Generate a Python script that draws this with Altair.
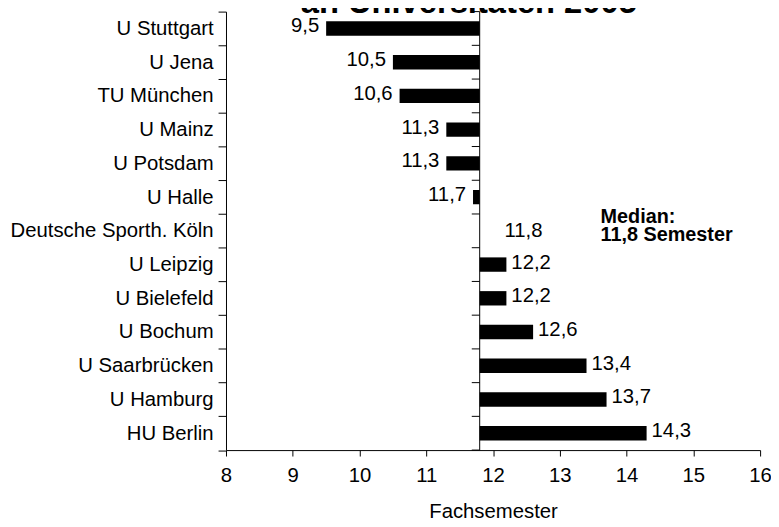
import altair as alt
import pandas as pd

# ---- data ----
categories = ["U Stuttgart", "U Jena", "TU München", "U Mainz", "U Potsdam",
              "U Halle", "Deutsche Sporth. Köln", "U Leipzig", "U Bielefeld",
              "U Bochum", "U Saarbrücken", "U Hamburg", "HU Berlin"]
values = [9.5, 10.5, 10.6, 11.3, 11.3, 11.7, 11.8, 12.2, 12.2, 12.6, 13.4, 13.7, 14.3]
median = 11.8
x_ticks = [8, 9, 10, 11, 12, 13, 14, 15, 16]
x_domain = [8, 16]
title_text = "an Universitäten 2005"
median_note = ["Median:", "11,8 Semester"]
x_title = "Fachsemester"

df = pd.DataFrame({"uni": categories, "wert": values})
df["label"] = [f"{v:.1f}".replace(".", ",") for v in values]

FONT = "Liberation Sans"
FS = 20.5
W, H = 539, 442.5

x_scale = alt.Scale(domain=x_domain, nice=False, zero=False)
band = alt.Scale(paddingInner=0, paddingOuter=0)

y_axis = alt.Axis(title=None, tickBand="extent", tickSize=8, labelPadding=5,
                  labelFont=FONT, labelFontSize=FS, labelColor="black",
                  domainColor="black", tickColor="black", labelLimit=400,
                  domainWidth=1, tickWidth=1, grid=False)
x_axis = alt.Axis(values=x_ticks, format="d", title=x_title, tickSize=6,
                  labelPadding=10, labelFont=FONT, labelFontSize=FS,
                  labelColor="black", titleFont=FONT, titleFontSize=FS,
                  titleFontWeight="normal", titleColor="black",
                  titlePadding=16, domainColor="black", tickColor="black",
                  domainWidth=1, tickWidth=1, grid=False, labelFlush=False)

base = alt.Chart(df)

bars = base.mark_bar(color="black", size=14.5).encode(
    x=alt.X("wert:Q", scale=x_scale, axis=x_axis),
    x2=alt.datum(median),
    y=alt.Y("uni:N", sort=categories, scale=band, axis=y_axis),
)

med_line = alt.Chart(pd.DataFrame({"m": [median]})).mark_rule(
    color="black", strokeWidth=1).encode(x=alt.X("m:Q"))

med_ticks = base.mark_rule(color="black", strokeWidth=1, x2Offset=-8).encode(
    x=alt.datum(median), x2=alt.datum(median),
    y=alt.Y("uni:N", sort=categories, bandPosition=0),
)
med_tick_last = alt.Chart(df.tail(1)).mark_rule(color="black", strokeWidth=1,
                                                x2Offset=-8).encode(
    x=alt.datum(median), x2=alt.datum(median),
    y=alt.Y("uni:N", sort=categories, bandPosition=1),
)

lbl_left = base.transform_filter(alt.datum.wert < median).mark_text(
    align="right", baseline="middle", dx=-7, dy=-2, font=FONT, fontSize=FS,
    color="black").encode(
    x="wert:Q", y=alt.Y("uni:N", sort=categories), text="label:N")
lbl_right = base.transform_filter(alt.datum.wert > median).mark_text(
    align="left", baseline="middle", dx=5, dy=-2, font=FONT, fontSize=FS,
    color="black").encode(
    x="wert:Q", y=alt.Y("uni:N", sort=categories), text="label:N")
lbl_mid = base.transform_filter(alt.datum.wert == median).mark_text(
    align="left", baseline="middle", dx=25, dy=0, font=FONT, fontSize=FS,
    color="black").encode(
    x="wert:Q", y=alt.Y("uni:N", sort=categories), text="label:N")

note = alt.Chart(pd.DataFrame({"t": [0]})).mark_text(
    align="left", baseline="alphabetic", font=FONT, fontSize=20,
    fontWeight="bold", lineHeight=18.5, color="black").encode(
    x=alt.value(378), y=alt.value(213), text=alt.value(median_note))

title = alt.Chart(pd.DataFrame({"t": [0]})).mark_text(
    align="center", baseline="alphabetic", font=FONT, fontSize=33,
    fontWeight="bold", color="black").encode(
    x=alt.value(245), y=alt.value(1.7), text=alt.value(title_text))

chart = alt.layer(
    bars, med_line, med_ticks, med_tick_last, lbl_left, lbl_right, lbl_mid,
    note, title
).properties(
    width=W, height=H,
    autosize=alt.AutoSizeParams(type="none"),
    padding={"left": 220, "top": 1.3, "right": 11, "bottom": 67},
    background="white",
).configure_view(stroke=None)

chart.save("out.html", embed_options={"renderer": "svg", "actions": False})
